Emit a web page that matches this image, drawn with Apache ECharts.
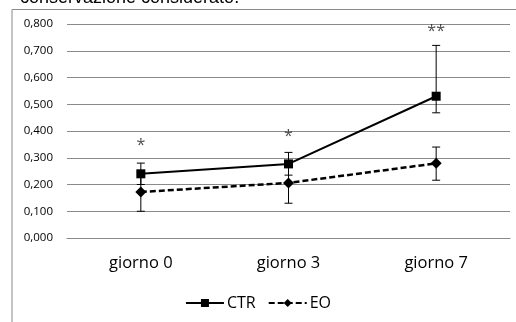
<!DOCTYPE html>
<html><head><meta charset="utf-8">
<script src="https://cdn.jsdelivr.net/npm/echarts@6/dist/echarts.min.js"></script>
<style>html,body{margin:0;padding:0;background:#fff}#c{width:516px;height:322px}</style>
</head><body><div id="c"></div>
<script>
const categories = ['giorno 0', 'giorno 3', 'giorno 7'];
const ctrValues = [0.240, 0.277, 0.530];
const ctrLow = [0.200, 0.235, 0.468];
const ctrHigh = [0.280, 0.320, 0.720];
const eoValues = [0.172, 0.206, 0.279];
const eoLow = [0.100, 0.130, 0.216];
const eoHigh = [0.240, 0.280, 0.340];
const sigLabels = ['*', '*', '**'];
const sigY = [0.345, 0.378, 0.772];
const yTicks = [0, 0.1, 0.2, 0.3, 0.4, 0.5, 0.6, 0.7, 0.8];

function errBar(low, high) {
  return {
    type: 'custom',
    z: 1,
    silent: true,
    data: categories.map((c, i) => [i, low[i], high[i]]),
    renderItem: function (params, api) {
      const x = api.value(0);
      const lo = api.coord([x, api.value(1)]);
      const hi = api.coord([x, api.value(2)]);
      const w = 4;
      const st = { stroke: '#000', lineWidth: 1 };
      return {
        type: 'group',
        children: [
          { type: 'line', shape: { x1: lo[0], y1: lo[1], x2: hi[0], y2: hi[1] }, style: st },
          { type: 'line', shape: { x1: lo[0] - w, y1: lo[1], x2: lo[0] + w, y2: lo[1] }, style: st },
          { type: 'line', shape: { x1: hi[0] - w, y1: hi[1], x2: hi[0] + w, y2: hi[1] }, style: st }
        ]
      };
    }
  };
}

const chart = echarts.init(document.getElementById('c'));
chart.setOption({
  animation: false,
  backgroundColor: '#fff',
  graphic: [
    { type: 'rect', shape: { x: 12, y: 9.5, width: 520, height: 330 }, style: { fill: 'none', stroke: '#8a8a8a', lineWidth: 1 } },
    { type: 'text', left: 20, top: -11, style: { text: 'conservazione considerato.', font: '18px "Liberation Sans", Arial, sans-serif', fill: '#000' } }
  ],
  grid: { left: 67, right: 6, top: 24, bottom: 84 },
  legend: {
    data: ['CTR', 'EO'],
    bottom: 6,
    left: 'center',
    itemGap: 12,
    itemWidth: 38,
    itemHeight: 10,
    textStyle: { fontFamily: 'Open Sans', fontSize: 16, color: '#000', padding: [0, 0, 0, -2] }
  },
  xAxis: {
    type: 'category',
    data: categories,
    axisLine: { show: true, lineStyle: { color: '#8a8a8a', width: 1 } },
    axisTick: { show: false },
    axisLabel: { color: '#000', fontFamily: 'Open Sans', fontSize: 16.5, margin: 17 }
  },
  yAxis: {
    type: 'value',
    min: 0, max: 0.8, interval: 0.1,
    axisLine: { show: false },
    axisTick: { show: false },
    splitLine: { lineStyle: { color: '#8a8a8a', width: 1 } },
    axisLabel: {
      color: '#000', fontFamily: 'Open Sans', fontSize: 11.5, margin: 14,
      formatter: v => v.toFixed(3).replace('.', ',')
    }
  },
  series: [
    errBar(ctrLow, ctrHigh),
    errBar(eoLow, eoHigh),
    {
      name: 'EO', type: 'line', data: eoValues, z: 3,
      symbol: 'diamond', symbolSize: 11,
      lineStyle: { color: '#000', width: 2.5, type: [6, 3] },
      itemStyle: { color: '#000' }
    },
    {
      name: 'CTR', type: 'line', data: ctrValues, z: 4,
      symbol: 'rect', symbolSize: 9,
      lineStyle: { color: '#000', width: 2 },
      itemStyle: { color: '#000' }
    },
    {
      type: 'scatter', data: sigY, symbolSize: 0, silent: true, z: 5,
      label: {
        show: true, position: 'inside',
        formatter: p => sigLabels[p.dataIndex],
        color: '#222', fontFamily: 'Open Sans', fontSize: 16
      }
    }
  ]
});
</script></body></html>
